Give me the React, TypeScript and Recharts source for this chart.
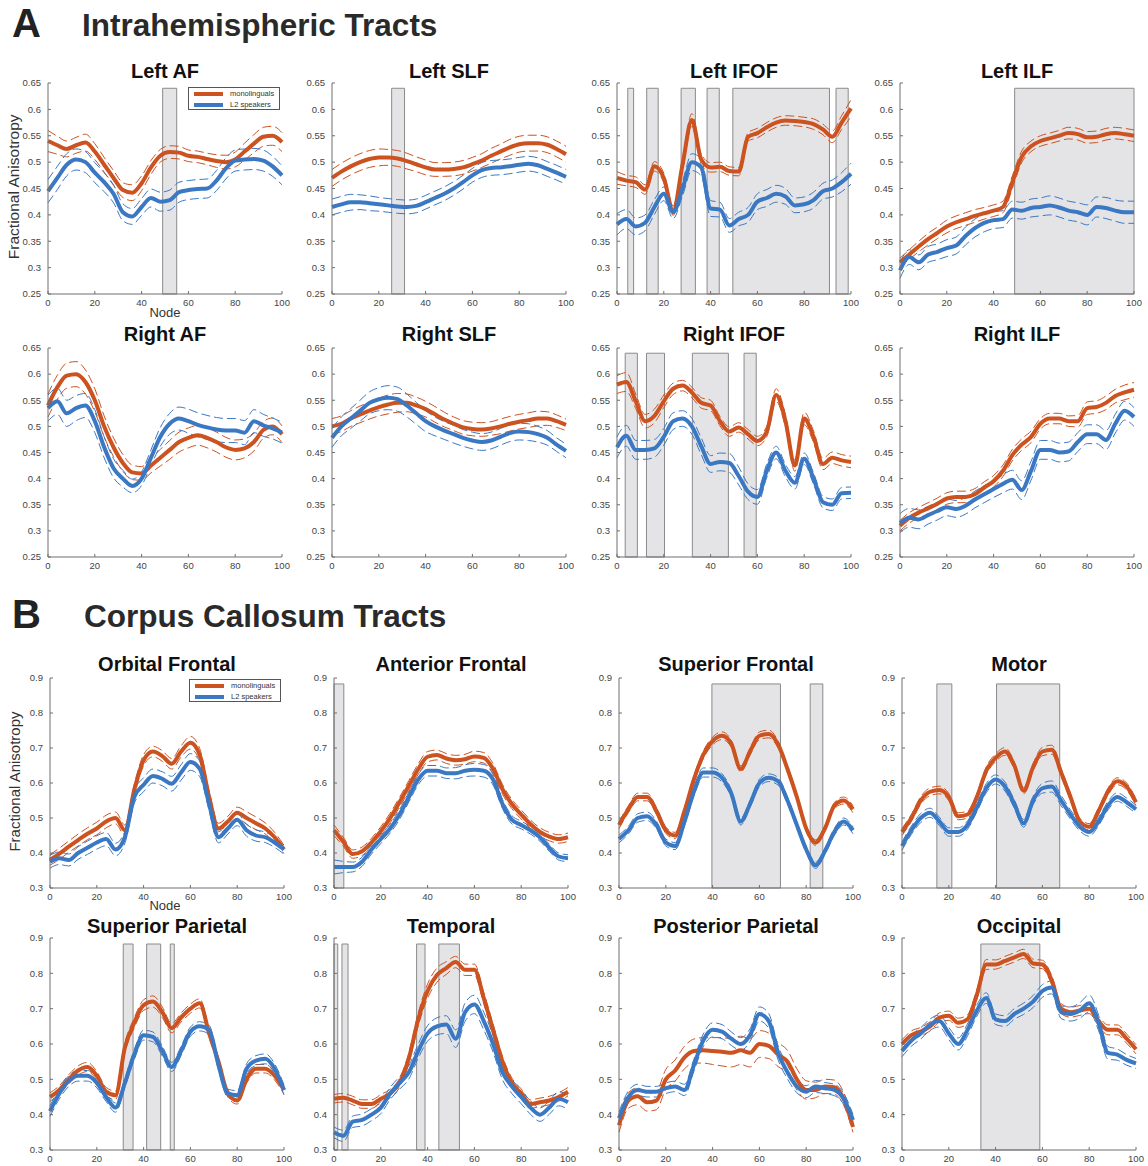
import React from 'react';
import { LineChart, Line, XAxis, YAxis, ReferenceArea } from 'recharts';

// node positions along each tract (every 4th node of 100)
const NODES = [0, 4, 8, 12, 16, 20, 24, 28, 32, 36, 40, 44, 48, 52, 56, 60, 64, 68, 72, 76, 80, 84, 88, 92, 96, 100];
const X_TICKS = [0, 20, 40, 60, 80, 100];
const Y_TICKS_A = [0.25, 0.3, 0.35, 0.4, 0.45, 0.5, 0.55, 0.6, 0.65];
const Y_TICKS_B = [0.3, 0.4, 0.5, 0.6, 0.7, 0.8, 0.9];

// ---- Intrahemispheric tracts: mean FA and standard error per node ----
const LEFT_AF_MONO = [0.540, 0.532, 0.525, 0.532, 0.537, 0.520, 0.495, 0.470, 0.447, 0.442, 0.460, 0.490, 0.512, 0.519, 0.518, 0.512, 0.510, 0.506, 0.502, 0.500, 0.505, 0.520, 0.535, 0.548, 0.550, 0.538];
const LEFT_AF_MONO_SE = [0.020, 0.017, 0.015, 0.015, 0.016, 0.015, 0.014, 0.014, 0.014, 0.015, 0.014, 0.013, 0.012, 0.012, 0.012, 0.011, 0.011, 0.011, 0.012, 0.013, 0.014, 0.016, 0.017, 0.018, 0.018, 0.018];
const LEFT_AF_L2 = [0.445, 0.470, 0.495, 0.505, 0.500, 0.480, 0.462, 0.440, 0.405, 0.397, 0.415, 0.432, 0.425, 0.428, 0.443, 0.447, 0.449, 0.450, 0.465, 0.488, 0.503, 0.505, 0.506, 0.503, 0.492, 0.475];
const LEFT_AF_L2_SE = [0.022, 0.022, 0.021, 0.020, 0.020, 0.019, 0.018, 0.017, 0.016, 0.015, 0.016, 0.017, 0.018, 0.019, 0.019, 0.018, 0.018, 0.018, 0.019, 0.020, 0.020, 0.020, 0.020, 0.020, 0.019, 0.018];
const LEFT_AF_SIG = [[49, 55]];

const LEFT_SLF_MONO = [0.470, 0.482, 0.492, 0.500, 0.506, 0.509, 0.509, 0.507, 0.502, 0.496, 0.490, 0.486, 0.486, 0.487, 0.490, 0.496, 0.503, 0.512, 0.520, 0.528, 0.534, 0.536, 0.536, 0.533, 0.525, 0.515];
const LEFT_SLF_MONO_SE = [0.016, 0.016, 0.016, 0.016, 0.016, 0.016, 0.015, 0.015, 0.015, 0.014, 0.014, 0.013, 0.013, 0.013, 0.013, 0.013, 0.013, 0.014, 0.014, 0.015, 0.015, 0.015, 0.015, 0.015, 0.015, 0.015];
const LEFT_SLF_L2 = [0.415, 0.420, 0.424, 0.424, 0.422, 0.420, 0.418, 0.416, 0.415, 0.417, 0.424, 0.432, 0.440, 0.450, 0.462, 0.475, 0.485, 0.489, 0.490, 0.492, 0.495, 0.497, 0.494, 0.487, 0.480, 0.472];
const LEFT_SLF_L2_SE = [0.015, 0.015, 0.015, 0.014, 0.014, 0.013, 0.013, 0.013, 0.013, 0.013, 0.013, 0.013, 0.013, 0.013, 0.013, 0.013, 0.014, 0.014, 0.014, 0.014, 0.014, 0.014, 0.014, 0.014, 0.014, 0.014];
const LEFT_SLF_SIG = [[25.5, 31]];

const LEFT_IFOF_MONO = [0.470, 0.465, 0.462, 0.448, 0.492, 0.470, 0.408, 0.495, 0.580, 0.505, 0.490, 0.491, 0.483, 0.482, 0.548, 0.555, 0.566, 0.575, 0.579, 0.578, 0.576, 0.572, 0.562, 0.548, 0.575, 0.602];
const LEFT_IFOF_MONO_SE = [0.012, 0.010, 0.010, 0.009, 0.009, 0.009, 0.009, 0.010, 0.012, 0.010, 0.009, 0.009, 0.008, 0.008, 0.008, 0.009, 0.009, 0.009, 0.009, 0.009, 0.009, 0.010, 0.010, 0.011, 0.013, 0.016];
const LEFT_IFOF_L2 = [0.382, 0.392, 0.378, 0.385, 0.415, 0.440, 0.405, 0.450, 0.500, 0.490, 0.412, 0.410, 0.380, 0.392, 0.400, 0.425, 0.432, 0.440, 0.435, 0.418, 0.420, 0.428, 0.445, 0.450, 0.462, 0.478];
const LEFT_IFOF_L2_SE = [0.020, 0.018, 0.016, 0.015, 0.014, 0.013, 0.012, 0.014, 0.016, 0.016, 0.015, 0.014, 0.013, 0.013, 0.014, 0.015, 0.016, 0.016, 0.015, 0.014, 0.014, 0.015, 0.015, 0.016, 0.018, 0.020];
const LEFT_IFOF_SIG = [[4.6, 7.1], [12.7, 17.6], [27.4, 33.5], [38.5, 43.7], [49.5, 90.8], [93.6, 98.8]];

const LEFT_ILF_MONO = [0.310, 0.325, 0.340, 0.354, 0.366, 0.378, 0.386, 0.392, 0.398, 0.403, 0.408, 0.415, 0.462, 0.510, 0.530, 0.540, 0.545, 0.550, 0.555, 0.553, 0.547, 0.548, 0.553, 0.555, 0.553, 0.550];
const LEFT_ILF_MONO_SE = [0.008, 0.009, 0.010, 0.011, 0.011, 0.012, 0.012, 0.012, 0.012, 0.011, 0.011, 0.011, 0.012, 0.011, 0.010, 0.010, 0.010, 0.010, 0.011, 0.011, 0.011, 0.011, 0.011, 0.011, 0.011, 0.011];
const LEFT_ILF_L2 = [0.295, 0.320, 0.310, 0.325, 0.330, 0.337, 0.342, 0.360, 0.375, 0.385, 0.390, 0.392, 0.410, 0.408, 0.413, 0.415, 0.418, 0.414, 0.408, 0.405, 0.400, 0.415, 0.413, 0.408, 0.405, 0.405];
const LEFT_ILF_L2_SE = [0.015, 0.014, 0.014, 0.015, 0.015, 0.016, 0.016, 0.017, 0.017, 0.017, 0.016, 0.016, 0.016, 0.016, 0.017, 0.017, 0.018, 0.018, 0.018, 0.018, 0.019, 0.019, 0.020, 0.020, 0.021, 0.021];
const LEFT_ILF_SIG = [[49, 100]];

const RIGHT_AF_MONO = [0.540, 0.575, 0.597, 0.600, 0.585, 0.550, 0.500, 0.460, 0.430, 0.412, 0.410, 0.425, 0.440, 0.455, 0.470, 0.478, 0.483, 0.478, 0.470, 0.460, 0.455, 0.458, 0.470, 0.493, 0.500, 0.485];
const RIGHT_AF_MONO_SE = [0.022, 0.023, 0.024, 0.024, 0.023, 0.022, 0.020, 0.018, 0.016, 0.014, 0.013, 0.014, 0.016, 0.018, 0.019, 0.019, 0.019, 0.019, 0.019, 0.019, 0.019, 0.018, 0.017, 0.016, 0.016, 0.016];
const RIGHT_AF_L2 = [0.535, 0.548, 0.525, 0.535, 0.540, 0.510, 0.460, 0.420, 0.400, 0.386, 0.400, 0.440, 0.480, 0.505, 0.515, 0.510, 0.503, 0.498, 0.494, 0.492, 0.492, 0.488, 0.510, 0.502, 0.496, 0.488];
const RIGHT_AF_L2_SE = [0.025, 0.025, 0.025, 0.024, 0.023, 0.022, 0.020, 0.018, 0.016, 0.013, 0.013, 0.015, 0.018, 0.020, 0.022, 0.023, 0.023, 0.023, 0.023, 0.023, 0.023, 0.023, 0.022, 0.021, 0.020, 0.020];
const RIGHT_AF_SIG: number[][] = [];

const RIGHT_SLF_MONO = [0.500, 0.505, 0.515, 0.523, 0.530, 0.537, 0.542, 0.545, 0.545, 0.540, 0.533, 0.523, 0.513, 0.505, 0.498, 0.495, 0.494, 0.496, 0.500, 0.505, 0.509, 0.512, 0.515, 0.515, 0.510, 0.503];
const RIGHT_SLF_MONO_SE = [0.015, 0.015, 0.015, 0.016, 0.016, 0.017, 0.018, 0.018, 0.017, 0.016, 0.015, 0.015, 0.014, 0.013, 0.013, 0.013, 0.013, 0.013, 0.014, 0.014, 0.014, 0.014, 0.014, 0.013, 0.012, 0.011];
const RIGHT_SLF_L2 = [0.478, 0.500, 0.515, 0.530, 0.545, 0.552, 0.555, 0.552, 0.540, 0.525, 0.510, 0.500, 0.492, 0.485, 0.478, 0.473, 0.470, 0.473, 0.480, 0.487, 0.490, 0.489, 0.485, 0.478, 0.465, 0.453];
const RIGHT_SLF_L2_SE = [0.018, 0.018, 0.019, 0.020, 0.021, 0.022, 0.023, 0.023, 0.022, 0.021, 0.020, 0.018, 0.017, 0.017, 0.016, 0.016, 0.016, 0.016, 0.016, 0.016, 0.016, 0.016, 0.015, 0.014, 0.013, 0.013];
const RIGHT_SLF_SIG: number[][] = [];

const RIGHT_IFOF_MONO = [0.580, 0.585, 0.548, 0.510, 0.520, 0.548, 0.572, 0.578, 0.565, 0.545, 0.540, 0.510, 0.490, 0.498, 0.485, 0.472, 0.490, 0.560, 0.510, 0.425, 0.515, 0.480, 0.428, 0.440, 0.435, 0.432];
const RIGHT_IFOF_MONO_SE = [0.017, 0.018, 0.014, 0.013, 0.013, 0.012, 0.011, 0.010, 0.010, 0.010, 0.010, 0.009, 0.009, 0.009, 0.009, 0.009, 0.010, 0.012, 0.012, 0.011, 0.012, 0.011, 0.011, 0.011, 0.011, 0.011];
const RIGHT_IFOF_L2 = [0.460, 0.482, 0.455, 0.455, 0.458, 0.480, 0.510, 0.515, 0.500, 0.462, 0.428, 0.432, 0.430, 0.405, 0.375, 0.365, 0.415, 0.450, 0.415, 0.392, 0.438, 0.400, 0.355, 0.350, 0.372, 0.373];
const RIGHT_IFOF_L2_SE = [0.020, 0.020, 0.018, 0.018, 0.017, 0.016, 0.016, 0.015, 0.015, 0.016, 0.016, 0.017, 0.018, 0.017, 0.015, 0.014, 0.013, 0.012, 0.012, 0.012, 0.011, 0.011, 0.011, 0.011, 0.011, 0.011];
const RIGHT_IFOF_SIG = [[3.5, 8.7], [12.6, 20.3], [32.2, 47.6], [54.3, 59.5]];

const RIGHT_ILF_MONO = [0.310, 0.325, 0.335, 0.343, 0.352, 0.362, 0.365, 0.365, 0.370, 0.383, 0.395, 0.415, 0.445, 0.465, 0.480, 0.505, 0.515, 0.515, 0.510, 0.510, 0.535, 0.537, 0.545, 0.558, 0.565, 0.570];
const RIGHT_ILF_MONO_SE = [0.010, 0.010, 0.010, 0.011, 0.011, 0.011, 0.011, 0.011, 0.011, 0.011, 0.011, 0.011, 0.011, 0.011, 0.011, 0.010, 0.010, 0.010, 0.010, 0.011, 0.012, 0.012, 0.013, 0.013, 0.014, 0.014];
const RIGHT_ILF_L2 = [0.315, 0.325, 0.322, 0.330, 0.338, 0.345, 0.342, 0.348, 0.360, 0.370, 0.380, 0.390, 0.398, 0.378, 0.415, 0.455, 0.455, 0.450, 0.452, 0.470, 0.485, 0.485, 0.474, 0.505, 0.530, 0.518];
const RIGHT_ILF_L2_SE = [0.018, 0.018, 0.018, 0.017, 0.017, 0.016, 0.016, 0.016, 0.016, 0.016, 0.016, 0.017, 0.018, 0.018, 0.018, 0.018, 0.018, 0.018, 0.018, 0.018, 0.018, 0.018, 0.018, 0.018, 0.018, 0.018];
const RIGHT_ILF_SIG: number[][] = [];

// ---- Corpus callosum tracts ----
const ORB_MONO = [0.380, 0.398, 0.418, 0.437, 0.455, 0.470, 0.490, 0.500, 0.465, 0.580, 0.665, 0.690, 0.677, 0.655, 0.690, 0.715, 0.680, 0.560, 0.470, 0.490, 0.515, 0.500, 0.485, 0.470, 0.445, 0.410];
const ORB_MONO_SE = [0.015, 0.016, 0.016, 0.017, 0.017, 0.018, 0.018, 0.017, 0.015, 0.016, 0.016, 0.015, 0.015, 0.015, 0.016, 0.018, 0.018, 0.017, 0.015, 0.015, 0.016, 0.018, 0.018, 0.016, 0.014, 0.012];
const ORB_L2 = [0.375, 0.385, 0.380, 0.400, 0.415, 0.430, 0.440, 0.410, 0.445, 0.560, 0.595, 0.620, 0.612, 0.598, 0.630, 0.660, 0.640, 0.540, 0.445, 0.470, 0.495, 0.465, 0.450, 0.445, 0.430, 0.410];
const ORB_L2_SE = [0.018, 0.018, 0.017, 0.018, 0.019, 0.019, 0.019, 0.018, 0.017, 0.018, 0.020, 0.020, 0.020, 0.021, 0.022, 0.024, 0.022, 0.019, 0.016, 0.016, 0.017, 0.017, 0.016, 0.015, 0.014, 0.013];
const ORB_SIG: number[][] = [];

const ANT_MONO = [0.465, 0.432, 0.397, 0.405, 0.430, 0.462, 0.500, 0.545, 0.592, 0.640, 0.675, 0.680, 0.670, 0.665, 0.668, 0.676, 0.672, 0.640, 0.582, 0.540, 0.510, 0.482, 0.460, 0.447, 0.440, 0.445];
const ANT_MONO_SE = [0.015, 0.013, 0.012, 0.012, 0.012, 0.013, 0.014, 0.014, 0.015, 0.015, 0.015, 0.014, 0.014, 0.014, 0.014, 0.015, 0.015, 0.015, 0.014, 0.013, 0.013, 0.012, 0.012, 0.012, 0.012, 0.012];
const ANT_L2 = [0.360, 0.360, 0.360, 0.375, 0.410, 0.440, 0.470, 0.510, 0.560, 0.610, 0.635, 0.635, 0.628, 0.628, 0.635, 0.638, 0.635, 0.610, 0.540, 0.495, 0.480, 0.465, 0.445, 0.415, 0.390, 0.385];
const ANT_L2_SE = [0.020, 0.016, 0.014, 0.013, 0.013, 0.013, 0.013, 0.014, 0.014, 0.015, 0.015, 0.015, 0.015, 0.016, 0.017, 0.018, 0.018, 0.016, 0.013, 0.012, 0.011, 0.011, 0.011, 0.010, 0.010, 0.010];
const ANT_SIG = [[0, 4.2]];

const SUPF_MONO = [0.480, 0.525, 0.560, 0.560, 0.520, 0.465, 0.450, 0.520, 0.610, 0.680, 0.720, 0.735, 0.712, 0.640, 0.690, 0.735, 0.740, 0.710, 0.640, 0.560, 0.470, 0.430, 0.470, 0.535, 0.550, 0.525];
const SUPF_MONO_SE = [0.010, 0.010, 0.011, 0.011, 0.010, 0.009, 0.009, 0.010, 0.010, 0.011, 0.011, 0.011, 0.010, 0.009, 0.010, 0.011, 0.011, 0.010, 0.009, 0.009, 0.008, 0.008, 0.008, 0.009, 0.010, 0.010];
const SUPF_L2 = [0.440, 0.465, 0.500, 0.505, 0.480, 0.430, 0.420, 0.490, 0.575, 0.630, 0.630, 0.615, 0.570, 0.490, 0.540, 0.600, 0.615, 0.605, 0.550, 0.480, 0.410, 0.365, 0.405, 0.460, 0.490, 0.465];
const SUPF_L2_SE = [0.011, 0.011, 0.012, 0.012, 0.011, 0.010, 0.010, 0.011, 0.012, 0.013, 0.013, 0.012, 0.011, 0.010, 0.010, 0.011, 0.011, 0.011, 0.010, 0.009, 0.009, 0.009, 0.009, 0.010, 0.010, 0.010];
const SUPF_SIG = [[39.7, 69], [81.7, 87.1]];

const MOTOR_MONO = [0.460, 0.500, 0.550, 0.575, 0.580, 0.560, 0.505, 0.510, 0.560, 0.635, 0.672, 0.690, 0.650, 0.578, 0.645, 0.690, 0.695, 0.630, 0.560, 0.490, 0.475, 0.520, 0.575, 0.605, 0.590, 0.545];
const MOTOR_MONO_SE = [0.010, 0.010, 0.011, 0.011, 0.011, 0.010, 0.010, 0.010, 0.010, 0.011, 0.011, 0.011, 0.010, 0.009, 0.010, 0.012, 0.013, 0.012, 0.010, 0.009, 0.009, 0.009, 0.010, 0.010, 0.010, 0.010];
const MOTOR_L2 = [0.420, 0.465, 0.500, 0.515, 0.490, 0.460, 0.460, 0.480, 0.530, 0.585, 0.610, 0.590, 0.540, 0.485, 0.550, 0.585, 0.590, 0.550, 0.510, 0.475, 0.460, 0.490, 0.535, 0.560, 0.545, 0.525];
const MOTOR_L2_SE = [0.012, 0.012, 0.013, 0.013, 0.012, 0.012, 0.012, 0.012, 0.012, 0.013, 0.013, 0.013, 0.012, 0.011, 0.012, 0.014, 0.016, 0.015, 0.013, 0.012, 0.012, 0.012, 0.012, 0.012, 0.012, 0.012];
const MOTOR_SIG = [[14.9, 21.3], [40.4, 67.4]];

const SUPP_MONO = [0.450, 0.470, 0.500, 0.525, 0.535, 0.510, 0.465, 0.455, 0.590, 0.660, 0.710, 0.720, 0.690, 0.645, 0.675, 0.700, 0.715, 0.630, 0.550, 0.460, 0.440, 0.500, 0.530, 0.530, 0.510, 0.470];
const SUPP_MONO_SE = [0.012, 0.012, 0.013, 0.013, 0.013, 0.012, 0.012, 0.012, 0.013, 0.014, 0.015, 0.016, 0.015, 0.013, 0.013, 0.013, 0.013, 0.012, 0.011, 0.010, 0.010, 0.011, 0.012, 0.012, 0.012, 0.012];
const SUPP_L2 = [0.410, 0.460, 0.495, 0.510, 0.510, 0.490, 0.450, 0.420, 0.490, 0.570, 0.625, 0.620, 0.580, 0.535, 0.580, 0.635, 0.650, 0.640, 0.540, 0.460, 0.455, 0.530, 0.553, 0.558, 0.530, 0.470];
const SUPP_L2_SE = [0.015, 0.015, 0.015, 0.015, 0.015, 0.014, 0.013, 0.013, 0.013, 0.014, 0.014, 0.014, 0.014, 0.013, 0.013, 0.013, 0.013, 0.013, 0.013, 0.012, 0.013, 0.014, 0.014, 0.014, 0.014, 0.014];
const SUPP_SIG = [[31.3, 35.5], [41.3, 47.3], [51.4, 53.1]];

const TEMP_MONO = [0.445, 0.448, 0.440, 0.430, 0.430, 0.445, 0.460, 0.490, 0.560, 0.670, 0.750, 0.795, 0.815, 0.832, 0.810, 0.810, 0.730, 0.640, 0.550, 0.490, 0.460, 0.430, 0.435, 0.440, 0.450, 0.465];
const TEMP_MONO_SE = [0.012, 0.012, 0.012, 0.012, 0.012, 0.012, 0.012, 0.013, 0.015, 0.018, 0.020, 0.020, 0.018, 0.016, 0.016, 0.016, 0.016, 0.016, 0.015, 0.014, 0.013, 0.012, 0.012, 0.012, 0.012, 0.012];
const TEMP_L2 = [0.350, 0.340, 0.380, 0.385, 0.400, 0.420, 0.460, 0.490, 0.520, 0.580, 0.630, 0.650, 0.655, 0.615, 0.690, 0.712, 0.665, 0.600, 0.520, 0.480, 0.450, 0.420, 0.400, 0.420, 0.445, 0.435];
const TEMP_L2_SE = [0.015, 0.016, 0.016, 0.017, 0.017, 0.017, 0.017, 0.018, 0.019, 0.020, 0.022, 0.024, 0.025, 0.025, 0.026, 0.026, 0.025, 0.023, 0.021, 0.020, 0.019, 0.019, 0.019, 0.019, 0.020, 0.020];
const TEMP_SIG = [[0, 1.6], [3.4, 6], [35.3, 38.9], [44.8, 53.6]];

const POST_MONO = [0.370, 0.440, 0.452, 0.435, 0.440, 0.500, 0.525, 0.562, 0.580, 0.582, 0.580, 0.578, 0.575, 0.582, 0.575, 0.600, 0.595, 0.570, 0.550, 0.500, 0.470, 0.470, 0.480, 0.478, 0.445, 0.365];
const POST_MONO_SE = [0.020, 0.022, 0.024, 0.025, 0.026, 0.028, 0.030, 0.032, 0.034, 0.036, 0.038, 0.040, 0.040, 0.040, 0.040, 0.038, 0.036, 0.034, 0.032, 0.030, 0.026, 0.022, 0.020, 0.020, 0.018, 0.015];
const POST_L2 = [0.390, 0.450, 0.470, 0.465, 0.465, 0.475, 0.480, 0.470, 0.540, 0.610, 0.640, 0.635, 0.615, 0.600, 0.625, 0.685, 0.665, 0.575, 0.520, 0.480, 0.465, 0.480, 0.475, 0.470, 0.445, 0.385];
const POST_L2_SE = [0.018, 0.017, 0.016, 0.015, 0.015, 0.015, 0.015, 0.016, 0.017, 0.018, 0.020, 0.020, 0.019, 0.018, 0.018, 0.020, 0.021, 0.020, 0.019, 0.018, 0.017, 0.017, 0.016, 0.016, 0.016, 0.016];
const POST_SIG: number[][] = [];

const OCC_MONO = [0.600, 0.625, 0.635, 0.650, 0.675, 0.680, 0.660, 0.670, 0.740, 0.825, 0.825, 0.835, 0.845, 0.855, 0.828, 0.825, 0.780, 0.700, 0.690, 0.695, 0.700, 0.665, 0.640, 0.640, 0.615, 0.585];
const OCC_MONO_SE = [0.012, 0.012, 0.012, 0.013, 0.013, 0.013, 0.013, 0.013, 0.014, 0.014, 0.013, 0.013, 0.013, 0.013, 0.012, 0.012, 0.013, 0.014, 0.014, 0.014, 0.014, 0.014, 0.014, 0.014, 0.013, 0.013];
const OCC_L2 = [0.580, 0.610, 0.630, 0.655, 0.665, 0.630, 0.600, 0.640, 0.695, 0.730, 0.670, 0.665, 0.685, 0.700, 0.720, 0.750, 0.760, 0.690, 0.685, 0.695, 0.715, 0.660, 0.575, 0.570, 0.555, 0.545];
const OCC_L2_SE = [0.016, 0.016, 0.016, 0.016, 0.017, 0.017, 0.017, 0.017, 0.016, 0.015, 0.015, 0.015, 0.015, 0.016, 0.017, 0.018, 0.018, 0.018, 0.020, 0.022, 0.024, 0.022, 0.018, 0.016, 0.015, 0.014];
const OCC_SIG = [[33.7, 58.9]];

const ORANGE = '#cc5220';
const BLUE = '#3a78c3';
const FONT = '"Liberation Sans", Arial, Helvetica, sans-serif';

const PLOT_W = 234;
const AXIS_W = 40;
const PAD_T = 6;
const PAD_R = 8;
const AXIS_H = 22;

type Row = { top: number; bottom: number; titleTop: number };
const ROW_A1: Row = { top: 83, bottom: 294, titleTop: 61 };
const ROW_A2: Row = { top: 348, bottom: 557, titleTop: 324 };
const ROW_B1: Row = { top: 678, bottom: 888, titleTop: 654 };
const ROW_B2: Row = { top: 938, bottom: 1150, titleTop: 916 };
const COLS_A = [48, 332, 617, 900];
const COLS_B = [50, 334, 619, 902];

type Panel = {
  title: string;
  mono: number[];
  monoSe: number[];
  l2: number[];
  l2Se: number[];
  sig: number[][];
  left: number;
  row: Row;
  section: 'A' | 'B';
};

const PANELS: Panel[] = [
  { title: 'Left AF', mono: LEFT_AF_MONO, monoSe: LEFT_AF_MONO_SE, l2: LEFT_AF_L2, l2Se: LEFT_AF_L2_SE, sig: LEFT_AF_SIG, left: COLS_A[0], row: ROW_A1, section: 'A' },
  { title: 'Left SLF', mono: LEFT_SLF_MONO, monoSe: LEFT_SLF_MONO_SE, l2: LEFT_SLF_L2, l2Se: LEFT_SLF_L2_SE, sig: LEFT_SLF_SIG, left: COLS_A[1], row: ROW_A1, section: 'A' },
  { title: 'Left IFOF', mono: LEFT_IFOF_MONO, monoSe: LEFT_IFOF_MONO_SE, l2: LEFT_IFOF_L2, l2Se: LEFT_IFOF_L2_SE, sig: LEFT_IFOF_SIG, left: COLS_A[2], row: ROW_A1, section: 'A' },
  { title: 'Left ILF', mono: LEFT_ILF_MONO, monoSe: LEFT_ILF_MONO_SE, l2: LEFT_ILF_L2, l2Se: LEFT_ILF_L2_SE, sig: LEFT_ILF_SIG, left: COLS_A[3], row: ROW_A1, section: 'A' },
  { title: 'Right AF', mono: RIGHT_AF_MONO, monoSe: RIGHT_AF_MONO_SE, l2: RIGHT_AF_L2, l2Se: RIGHT_AF_L2_SE, sig: RIGHT_AF_SIG, left: COLS_A[0], row: ROW_A2, section: 'A' },
  { title: 'Right SLF', mono: RIGHT_SLF_MONO, monoSe: RIGHT_SLF_MONO_SE, l2: RIGHT_SLF_L2, l2Se: RIGHT_SLF_L2_SE, sig: RIGHT_SLF_SIG, left: COLS_A[1], row: ROW_A2, section: 'A' },
  { title: 'Right IFOF', mono: RIGHT_IFOF_MONO, monoSe: RIGHT_IFOF_MONO_SE, l2: RIGHT_IFOF_L2, l2Se: RIGHT_IFOF_L2_SE, sig: RIGHT_IFOF_SIG, left: COLS_A[2], row: ROW_A2, section: 'A' },
  { title: 'Right ILF', mono: RIGHT_ILF_MONO, monoSe: RIGHT_ILF_MONO_SE, l2: RIGHT_ILF_L2, l2Se: RIGHT_ILF_L2_SE, sig: RIGHT_ILF_SIG, left: COLS_A[3], row: ROW_A2, section: 'A' },
  { title: 'Orbital Frontal', mono: ORB_MONO, monoSe: ORB_MONO_SE, l2: ORB_L2, l2Se: ORB_L2_SE, sig: ORB_SIG, left: COLS_B[0], row: ROW_B1, section: 'B' },
  { title: 'Anterior Frontal', mono: ANT_MONO, monoSe: ANT_MONO_SE, l2: ANT_L2, l2Se: ANT_L2_SE, sig: ANT_SIG, left: COLS_B[1], row: ROW_B1, section: 'B' },
  { title: 'Superior Frontal', mono: SUPF_MONO, monoSe: SUPF_MONO_SE, l2: SUPF_L2, l2Se: SUPF_L2_SE, sig: SUPF_SIG, left: COLS_B[2], row: ROW_B1, section: 'B' },
  { title: 'Motor', mono: MOTOR_MONO, monoSe: MOTOR_MONO_SE, l2: MOTOR_L2, l2Se: MOTOR_L2_SE, sig: MOTOR_SIG, left: COLS_B[3], row: ROW_B1, section: 'B' },
  { title: 'Superior Parietal', mono: SUPP_MONO, monoSe: SUPP_MONO_SE, l2: SUPP_L2, l2Se: SUPP_L2_SE, sig: SUPP_SIG, left: COLS_B[0], row: ROW_B2, section: 'B' },
  { title: 'Temporal', mono: TEMP_MONO, monoSe: TEMP_MONO_SE, l2: TEMP_L2, l2Se: TEMP_L2_SE, sig: TEMP_SIG, left: COLS_B[1], row: ROW_B2, section: 'B' },
  { title: 'Posterior Parietal', mono: POST_MONO, monoSe: POST_MONO_SE, l2: POST_L2, l2Se: POST_L2_SE, sig: POST_SIG, left: COLS_B[2], row: ROW_B2, section: 'B' },
  { title: 'Occipital', mono: OCC_MONO, monoSe: OCC_MONO_SE, l2: OCC_L2, l2Se: OCC_L2_SE, sig: OCC_SIG, left: COLS_B[3], row: ROW_B2, section: 'B' },
];

const tickStyle = { fontSize: 9.5, fill: '#444', fontFamily: FONT };

function TractChart({ p }: { p: Panel }) {
  const rows = NODES.map((node, i) => ({
    node,
    mono: p.mono[i],
    monoHi: p.mono[i] + p.monoSe[i],
    monoLo: p.mono[i] - p.monoSe[i],
    l2: p.l2[i],
    l2Hi: p.l2[i] + p.l2Se[i],
    l2Lo: p.l2[i] - p.l2Se[i],
  }));
  const isA = p.section === 'A';
  const domain: [number, number] = isA ? [0.25, 0.65] : [0.3, 0.9];
  const sigTop = isA ? 0.64 : 0.883;
  const plotH = p.row.bottom - p.row.top;

  const band = (key: string, color: string) => (
    <Line key={key} dataKey={key} type="monotone" stroke={color} strokeWidth={1} strokeDasharray="9 4"
      dot={false} activeDot={false} isAnimationActive={false} />
  );

  return (
    <>
      <div style={{
        position: 'absolute', left: p.left - 20, width: PLOT_W + 40, top: p.row.titleTop,
        textAlign: 'center', fontFamily: FONT, fontWeight: 'bold', fontSize: 20, lineHeight: '20px', color: '#111',
      }}>{p.title}</div>
      <div style={{ position: 'absolute', left: p.left - AXIS_W, top: p.row.top - PAD_T }}>
        <LineChart width={AXIS_W + PLOT_W + PAD_R} height={PAD_T + plotH + AXIS_H} data={rows}
          margin={{ top: PAD_T, right: PAD_R, bottom: 0, left: 0 }}>
          {/* negative tick size draws the ticks inside the plot box */}
          <XAxis dataKey="node" type="number" domain={[0, 100]} ticks={X_TICKS} interval={0} height={AXIS_H}
            tick={tickStyle} stroke="#6e6e6e" tickSize={-3} tickMargin={8} />
          <YAxis type="number" domain={domain} ticks={isA ? Y_TICKS_A : Y_TICKS_B} interval={0} width={AXIS_W}
            tick={tickStyle} stroke="#6e6e6e" tickSize={-3} tickMargin={10} tickFormatter={(v: number) => String(v)} />
          {p.sig.map(([a, b], k) => (
            <ReferenceArea key={k} x1={a} x2={b} y1={domain[0]} y2={sigTop}
              fill="#e4e4e6" fillOpacity={1} stroke="#8a8a8a" strokeWidth={1} />
          ))}
          {band('monoHi', ORANGE)}
          {band('monoLo', ORANGE)}
          {band('l2Hi', BLUE)}
          {band('l2Lo', BLUE)}
          <Line dataKey="mono" type="monotone" stroke={ORANGE} strokeWidth={4} dot={false} activeDot={false}
            isAnimationActive={false} />
          <Line dataKey="l2" type="monotone" stroke={BLUE} strokeWidth={4} dot={false} activeDot={false}
            isAnimationActive={false} />
        </LineChart>
      </div>
    </>
  );
}

function GroupLegend({ left, top }: { left: number; top: number }) {
  const item = (color: string, label: string) => (
    <div style={{ display: 'flex', alignItems: 'center', height: 11 }}>
      <div style={{ width: 29, height: 4, background: color, marginLeft: 5, marginRight: 7 }} />
      <span style={{ fontSize: 7.5, color: '#333', fontFamily: FONT }}>{label}</span>
    </div>
  );
  return (
    <div style={{
      position: 'absolute', left, top, width: 92, height: 23, border: '1px solid #555', background: '#fff',
      boxSizing: 'border-box',
    }}>
      {item(ORANGE, 'monolinguals')}
      {item(BLUE, 'L2 speakers')}
    </div>
  );
}

function AxisTitle({ cx, cy, size }: { cx: number; cy: number; size: number }) {
  const w = 220;
  return (
    <div style={{
      position: 'absolute', left: cx - w / 2, top: cy - size / 2, width: w, textAlign: 'center',
      transform: 'rotate(-90deg)', fontFamily: FONT, fontSize: size, lineHeight: `${size}px`, color: '#333',
    }}>Fractional Anisotropy</div>
  );
}

function NodeLabel({ cx, top }: { cx: number; top: number }) {
  return (
    <div style={{
      position: 'absolute', left: cx - 30, width: 60, top, textAlign: 'center',
      fontFamily: FONT, fontSize: 13, lineHeight: '13px', color: '#333',
    }}>Node</div>
  );
}

function SectionHeader({ letter, text, top, textLeft }: { letter: string; text: string; top: number; textLeft: number }) {
  return (
    <>
      <div style={{
        position: 'absolute', left: 12, top, fontFamily: FONT, fontWeight: 'bold', fontSize: 40,
        lineHeight: '40px', color: '#222',
      }}>{letter}</div>
      <div style={{
        position: 'absolute', left: textLeft, top: top + 7, fontFamily: FONT, fontWeight: 'bold', fontSize: 31.5,
        lineHeight: '31.5px', color: '#2a2a2a', whiteSpace: 'nowrap',
      }}>{text}</div>
    </>
  );
}

export default function App() {
  return (
    <div style={{ position: 'absolute', left: 0, top: 0, width: 1148, height: 1166, background: '#fff', overflow: 'hidden' }}>
      <SectionHeader letter="A" text="Intrahemispheric Tracts" top={3} textLeft={82} />
      <SectionHeader letter="B" text="Corpus Callosum Tracts" top={594} textLeft={84} />
      {PANELS.map((p) => <TractChart key={p.title} p={p} />)}
      <GroupLegend left={188} top={87} />
      <GroupLegend left={189} top={679} />
      <AxisTitle cx={14} cy={187} size={15.5} />
      <AxisTitle cx={14} cy={781} size={15} />
      <NodeLabel cx={165} top={306} />
      <NodeLabel cx={165} top={899} />
    </div>
  );
}
